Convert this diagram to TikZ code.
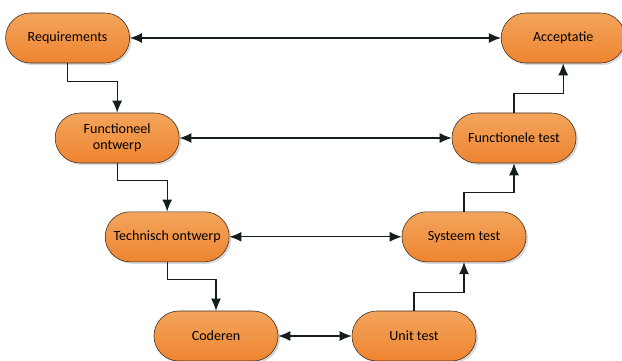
\documentclass[tikz,border=0pt]{standalone}
\usepackage{fontspec}
\setmainfont{Carlito}
\usepackage{tikz}
\usetikzlibrary{arrows.meta,shadows}

\definecolor{fase}{RGB}{238,132,48}
\definecolor{faselicht}{RGB}{243,165,92}
\definecolor{rand}{RGB}{60,45,30}
\definecolor{lijn}{RGB}{20,30,30}

\tikzset{
	fase/.style={draw=rand, thin, rounded corners=0.62cm, minimum width=3.1cm, minimum height=1.25cm,
		top color=faselicht, bottom color=fase, align=center, font=\fontsize{10}{11.5}\selectfont,
		drop shadow={shadow xshift=0.05cm, shadow yshift=-0.05cm, opacity=0.3}},
	pijl/.style={->, draw=lijn, line width=0.9pt},
	dubbel/.style={<->, draw=lijn, line width=0.9pt}
}

\begin{document}
\begin{tikzpicture}[>={Latex[length=3mm,width=2.5mm]}]
		\useasboundingbox (0,0) rectangle (15.55,9);
		%Links
		\node [fase] (req) at (1.69,8.05) {Requirements};
		\node [fase] (fo) at (2.93,5.55) {Functioneel\\ontwerp};
		\node [fase] (to) at (4.18,3.08) {Technisch ontwerp};
		\node [fase] (cod) at (5.4,0.6) {Coderen};
		%Rechts
		\node [fase] (acc) at (14.08,8.05) {Acceptatie};
		\node [fase] (ft) at (12.85,5.55) {Functionele test};
		\node [fase] (st) at (11.6,3.08) {Systeem test};
		\node [fase] (ut) at (10.35,0.6) {Unit test};
		%Omlaag
		\draw [pijl] (req.south) -- ++(0,-0.45) -| (fo.north);
		\draw [pijl] (fo.south) -- ++(0,-0.43) -| (to.north);
		\draw [pijl] (to.south) -- ++(0,-0.43) -| (cod.north);
		%Omhoog
		\draw [pijl] (ut.north) -- ++(0,0.45) -| (st.south);
		\draw [pijl] (st.north) -- ++(0,0.48) -| (ft.south);
		\draw [pijl] (ft.north) -- ++(0,0.48) -| (acc.south);
		%Horizontaal
		\draw [dubbel] (req.east) -- (acc.west);
		\draw [dubbel] (fo.east) -- (ft.west);
		\draw [dubbel] (to.east) -- (st.west);
		\draw [dubbel] (cod.east) -- (ut.west);
	\end{tikzpicture}
\end{document}
